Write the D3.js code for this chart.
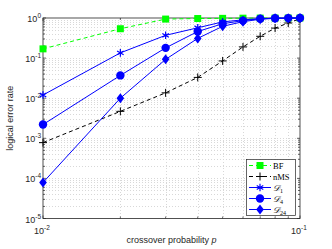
<!DOCTYPE html>
<html>
<head>
<meta charset="utf-8">
<script src="https://cdn.jsdelivr.net/npm/d3@7"></script>
<style>
  body { margin: 0; background: #fff; }
  text { font-family: "Liberation Sans", Arial, sans-serif; }
</style>
</head>
<body>
<div id="chart"></div>
<script>
// Data
var pValues = [0.01, 0.02, 0.03, 0.04, 0.05, 0.06, 0.07, 0.08, 0.09, 0.1];
var bfRate   = [0.17, 0.54, 0.94, 0.97, 0.98, 0.99, 0.995, 0.998, 0.999, 1.0];
var nmsRate  = [7.8e-4, 4.7e-3, 1.36e-2, 3.3e-2, 8.5e-2, 0.19, 0.35, 0.56, 0.75, 0.96];
var d1Rate   = [0.012, 0.135, 0.37, 0.57, 0.8, 0.9, 0.96, 0.985, 0.995, 1.0];
var d4Rate   = [2.2e-3, 0.037, 0.18, 0.46, 0.72, 0.86, 0.96, 0.985, 0.995, 1.0];
var d24Rate  = [7.9e-5, 0.01, 0.093, 0.31, 0.62, 0.81, 0.93, 0.98, 0.99, 1.0];
var xTickValues = [0.01, 0.1];
var yTickValues = [1e-5, 1e-4, 1e-3, 1e-2, 1e-1, 1];

var width = 332, height = 249;
var margin = {top: 18, right: 32, bottom: 30, left: 43};
var plotW = width - margin.left - margin.right;
var plotH = height - margin.top - margin.bottom - 0.5;

var svg = d3.select("#chart").append("svg")
    .attr("width", width)
    .attr("height", height);

var x = d3.scaleLog().domain([0.01, 0.1]).range([margin.left, margin.left + plotW]);
var y = d3.scaleLog().domain([1e-5, 1]).range([margin.top + plotH, margin.top]);

// Minor tick values (2..9 of each decade)
var xMinor = [];
for (var k = 2; k <= 9; k++) xMinor.push(k * 0.01);
var yMinor = [];
yTickValues.slice(0, -1).forEach(function(d) {
    for (var k = 2; k <= 9; k++) yMinor.push(d * k);
});

// Grid lines
var grid = svg.append("g").attr("class", "grid");
grid.selectAll(".gx")
    .data(xMinor)
    .enter().append("line")
    .attr("x1", function(d) { return Math.round(x(d)) + 0.5; })
    .attr("x2", function(d) { return Math.round(x(d)) + 0.5; })
    .attr("y1", y(1)).attr("y2", y(1e-5))
    .style("stroke", "#d8d8d8").style("stroke-dasharray", "1,2");
grid.selectAll(".gy")
    .data(yMinor.concat(yTickValues.slice(1, -1)))
    .enter().append("line")
    .attr("y1", function(d) { return Math.round(y(d)) + 0.5; })
    .attr("y2", function(d) { return Math.round(y(d)) + 0.5; })
    .attr("x1", x(0.01)).attr("x2", x(0.1))
    .style("stroke", "#d8d8d8").style("stroke-dasharray", "1,2");

// Axes box
svg.append("rect")
    .attr("x", x(0.01)).attr("y", y(1))
    .attr("width", plotW).attr("height", plotH)
    .style("fill", "none").style("stroke", "#262626").style("stroke-width", 0.8);

// Tick marks, drawn inward on all four sides
var ticks = svg.append("g").style("stroke", "#262626").style("stroke-width", 0.7);
function tickLen(major) { return major ? 3 : 2; }
xMinor.concat(xTickValues).forEach(function(d) {
    var major = xTickValues.indexOf(d) >= 0;
    var xp = x(d);
    ticks.append("line").attr("x1", xp).attr("x2", xp)
        .attr("y1", y(1e-5)).attr("y2", y(1e-5) - tickLen(major));
    ticks.append("line").attr("x1", xp).attr("x2", xp)
        .attr("y1", y(1)).attr("y2", y(1) + tickLen(major));
});
yMinor.concat(yTickValues).forEach(function(d) {
    var major = yTickValues.indexOf(d) >= 0;
    var yp = y(d);
    ticks.append("line").attr("y1", yp).attr("y2", yp)
        .attr("x1", x(0.01)).attr("x2", x(0.01) + tickLen(major));
    ticks.append("line").attr("y1", yp).attr("y2", yp)
        .attr("x1", x(0.1)).attr("x2", x(0.1) - tickLen(major));
});

// Tick labels as 10 with superscript exponent
function powerLabel(sel, d) {
    var e = Math.round(Math.log10(d));
    sel.append("tspan").text("10");
    sel.append("tspan").attr("dy", -4).style("font-size", "6.5px").text(e);
}
yTickValues.forEach(function(d) {
    var t = svg.append("text")
        .attr("x", x(0.01) - 2)
        .attr("y", y(d) + 4)
        .attr("text-anchor", "end")
        .style("font-size", "9px")
        .style("fill", "#262626");
    powerLabel(t, d);
});
xTickValues.forEach(function(d) {
    var t = svg.append("text")
        .attr("x", x(d) - 1)
        .attr("y", y(1e-5) + 15)
        .attr("text-anchor", "middle")
        .style("font-size", "9px")
        .style("fill", "#262626");
    powerLabel(t, d);
});

// Axis labels
var xl = svg.append("text")
    .attr("x", (x(0.01) + x(0.1)) / 2)
    .attr("y", 243)
    .attr("text-anchor", "middle")
    .style("font-size", "9px")
    .style("fill", "#262626");
xl.append("tspan").text("crossover probability ");
xl.append("tspan").style("font-style", "italic").text("p");

svg.append("text")
    .attr("transform", "translate(13," + (y(1e-5) + y(1)) / 2 + ") rotate(-90)")
    .attr("text-anchor", "middle")
    .style("font-size", "9px")
    .style("fill", "#262626")
    .text("logical error rate");

// Series definitions
var series = [
    {name: "BF",  values: bfRate,  color: "#00ff00", dash: "4,3", marker: "square"},
    {name: "nMS", values: nmsRate, color: "#000000", dash: "4,3", marker: "plus"},
    {name: "D1",  sub: "1",  values: d1Rate,  color: "#0000ff", dash: null, marker: "asterisk"},
    {name: "D4",  sub: "4",  values: d4Rate,  color: "#0000ff", dash: null, marker: "circle"},
    {name: "D24", sub: "24", values: d24Rate, color: "#0000ff", dash: null, marker: "diamond"}
];

var line = d3.line()
    .x(function(d) { return x(d[0]); })
    .y(function(d) { return y(d[1]); });

function drawMarker(g, type, cx, cy, color) {
    if (type === "square") {
        g.append("rect").attr("x", cx - 3.5).attr("y", cy - 3.5)
            .attr("width", 7).attr("height", 7).style("fill", color);
    } else if (type === "plus") {
        g.append("path").attr("d", "M" + (cx - 4) + "," + cy + "H" + (cx + 4) + "M" + cx + "," + (cy - 4) + "V" + (cy + 4))
            .style("stroke", color).style("stroke-width", 1);
    } else if (type === "asterisk") {
        g.append("path").attr("d", d3.symbol().type(d3.symbolAsterisk).size(40)())
            .attr("transform", "translate(" + cx + "," + cy + ")")
            .style("stroke", color).style("stroke-width", 1.2);
    } else if (type === "circle") {
        g.append("circle").attr("cx", cx).attr("cy", cy).attr("r", 4.2).style("fill", color);
    } else if (type === "diamond") {
        g.append("path").attr("d", "M" + cx + "," + (cy - 5) + "L" + (cx + 3.8) + "," + cy + "L" + cx + "," + (cy + 5) + "L" + (cx - 3.8) + "," + cy + "Z")
            .style("fill", color);
    }
}

series.forEach(function(s) {
    var pts = pValues.map(function(p, i) { return [p, s.values[i]]; });
    var g = svg.append("g");
    g.append("path")
        .datum(pts)
        .attr("d", line)
        .style("fill", "none")
        .style("stroke", s.color)
        .style("stroke-width", 1)
        .style("stroke-dasharray", s.dash);
    pts.forEach(function(d) {
        drawMarker(g, s.marker, x(d[0]), y(d[1]), s.color);
    });
});

// Legend
var legX = 246, legY = 159, legW = 49, legH = 56;
svg.append("rect")
    .attr("x", legX + 0.5).attr("y", legY + 0.5)
    .attr("width", legW).attr("height", legH)
    .style("fill", "#fff").style("stroke", "#262626").style("stroke-width", 0.7);

series.forEach(function(s, i) {
    var ly = legY + 6.5 + i * 11;
    var g = svg.append("g");
    g.append("line")
        .attr("x1", legX + 3).attr("x2", legX + 25)
        .attr("y1", ly).attr("y2", ly)
        .style("stroke", s.color).style("stroke-width", 1)
        .style("stroke-dasharray", s.dash);
    drawMarker(g, s.marker, legX + 14, ly, s.color);
    var t = g.append("text")
        .attr("x", legX + 27)
        .attr("y", ly + 3)
        .style("font-family", "'Liberation Serif', 'DejaVu Serif', serif")
        .style("font-size", "8.5px")
        .style("fill", "#000");
    if (s.sub) {
        t.append("tspan").style("font-style", "italic").text("\uD835\uDC9F");
        t.append("tspan").attr("dy", 2).style("font-size", "6px").text(s.sub);
    } else {
        t.text(s.name);
    }
});
</script>
</body>
</html>
